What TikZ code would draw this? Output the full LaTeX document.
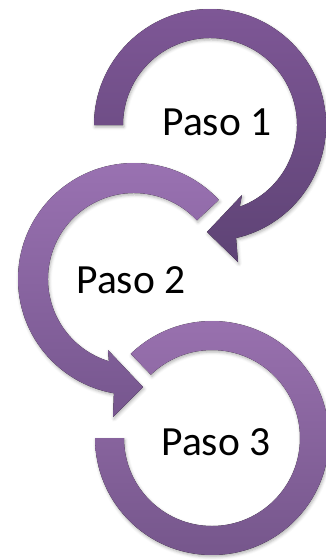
\documentclass[tikz,border=0pt]{standalone}
\usepackage{fontspec}
\setmainfont{Carlito}
\usetikzlibrary{shadows.blur}
\definecolor{aOneTop}{HTML}{7E5796}
\definecolor{aOneBot}{HTML}{5E4375}
\definecolor{aTwoTop}{HTML}{9B73B3}
\definecolor{aTwoBot}{HTML}{76568E}
\definecolor{aThrTop}{HTML}{9A72B0}
\definecolor{aThrBot}{HTML}{74558A}
\begin{document}
\begin{tikzpicture}[x=1pt,y=-1pt,
  ring/.style={blur shadow={shadow xshift=1pt, shadow yshift=-2pt, shadow blur radius=3pt, shadow opacity=30}},
  lbl/.style={font=\fontsize{41.5}{48}\selectfont, anchor=base, inner sep=0pt, text=black}]
\useasboundingbox (0,0) rectangle (326,560);
\coordinate (c1) at (210,125);
\coordinate (c2) at (134,279);
\coordinate (c3) at (212,438);
% arrow 3 (no head)
\fill[ring, top color=aThrTop, bottom color=aThrBot]
  ([shift={(226:117)}]c3) arc[start angle=226, end angle=540, radius=117]
  -- ([shift={(540:88)}]c3) arc[start angle=540, end angle=226, radius=88] -- cycle;
% arrow 2
\fill[ring, top color=aTwoTop, bottom color=aTwoBot]
  ([shift={(-43:116)}]c2) arc[start angle=-43, end angle=-260, radius=116]
  -- (113,417) -- (143,387) -- (108,350)
  -- ([shift={(-253:86)}]c2) arc[start angle=-253, end angle=-43, radius=86] -- cycle;
% arrow 1
\fill[ring, top color=aOneTop, bottom color=aOneBot]
  ([shift={(180:116)}]c1) arc[start angle=180, end angle=437, radius=116]
  -- (238,262) -- (207,232) -- (242,195)
  -- ([shift={(430:87)}]c1) arc[start angle=430, end angle=180, radius=87] -- cycle;
\node[lbl] (t1) at (217,135) {Paso 1};
\node[lbl] (t2) at (131,293) {Paso 2};
\node[lbl] (t3) at (216,455) {Paso 3};
\end{tikzpicture}
\end{document}
